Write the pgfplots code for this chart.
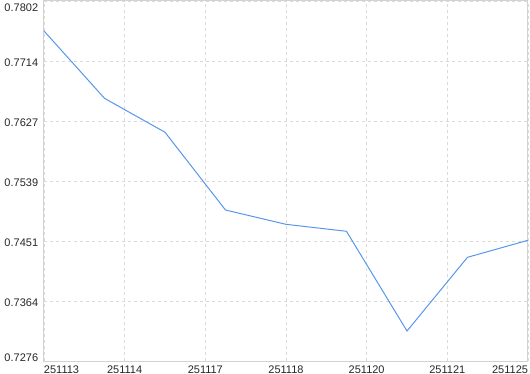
\documentclass[border=0pt]{standalone}
\usepackage{pgfplots}
\pgfplotsset{compat=1.18}
\usepackage{fontspec}
\setmainfont{Liberation Sans}
\definecolor{linecol}{RGB}{88,150,236}
\definecolor{gridcol}{RGB}{218,218,218}
\definecolor{framecol}{RGB}{210,210,210}
\begin{document}
\fontsize{11bp}{13bp}\selectfont
\begin{tikzpicture}
\begin{axis}[
  at={(0,0)}, anchor=south west,
  scale only axis, width=484bp, height=360bp,
  xmin=0, xmax=8, ymin=0.7276, ymax=0.7802,
  xtick={0,1.33333,2.66667,4,5.33333,6.66667,8},
  xticklabels={\hphantom{251113}251113,251114,251117,251118,251120,251121,251125\hphantom{251125}},
  ytick={0.7276,0.736367,0.745133,0.7539,0.762667,0.771433,0.7802},
  yticklabels={\raisebox{5bp}[\height][\depth]{0.7276},0.7364,0.7451,0.7539,0.7627,0.7714,\raisebox{-5bp}[\height][\depth]{0.7802}},
  major tick length=0pt,
  grid=major,
  major grid style={gridcol, line width=0.8bp, dash pattern=on 3bp off 3bp},
  axis line style={framecol, line width=1bp},
  tick label style={font=\fontsize{11bp}{13bp}\selectfont, text=black!85},
  yticklabel style={anchor=east, xshift=-2bp, yshift=-1.5bp},
  xticklabel style={anchor=north, yshift=-0.5bp},
  clip=false,
]
\addplot[linecol, line width=1bp] coordinates {
 (0,0.77582) (1,0.76598) (2,0.76102) (3,0.74966) (4,0.74757)
 (5,0.74655) (6,0.73198) (7,0.74275) (8,0.74524)
};
\end{axis}
\pgfresetboundingbox
\useasboundingbox (-44bp,-13bp) rectangle (486bp,361bp);
\end{tikzpicture}
\end{document}
